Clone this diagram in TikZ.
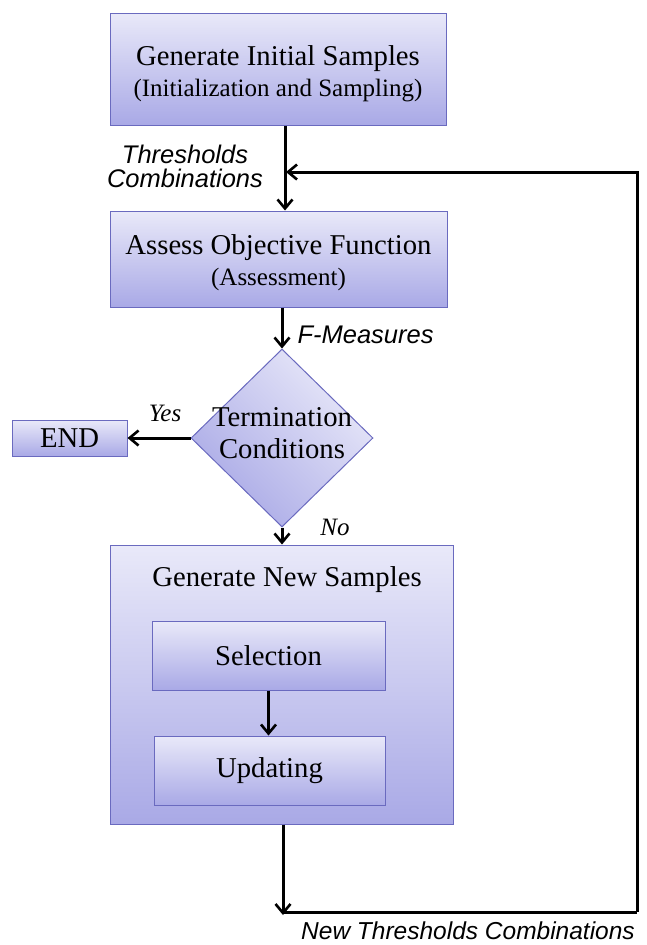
\documentclass[tikz,border=0pt]{standalone}
\usepackage{fontspec}
\setmainfont{Liberation Serif}
\setsansfont{Liberation Sans}
\usepackage{tikz}
\usetikzlibrary{
	                shapes.geometric,
	                arrows.meta,
	                calc
					}
\definecolor{boxtop}{HTML}{E9E9F9}
\definecolor{boxbot}{HTML}{A9A9E6}
\definecolor{boxline}{HTML}{6A6ABF}

\begin{document}
\begin{tikzpicture}[x=1pt,y=-1pt,
	box/.style={draw=boxline,line width=1pt,top color=boxtop,bottom color=boxbot,minimum width=#1},
	boxtxt/.style={font=\fontsize{28.7}{34}\selectfont,align=center},
	lab/.style={font=\sffamily\itshape\fontsize{25.5}{30}\selectfont,align=center},
	yn/.style={font=\itshape\fontsize{25}{30}\selectfont},
	arr/.style={line width=3pt,-{Straight Barb[length=9pt,width=15pt,line width=2.6pt]}},
	ln/.style={line width=3pt}]
	\useasboundingbox (0,0) rectangle (647,945);
	\node[box=336pt,minimum height=112pt] (init) at (278,69) {};
	\node[boxtxt] (inittxt) at ([yshift=-5pt]init.center) {Generate Initial Samples\\[-3pt]{\fontsize{25}{30}\selectfont (Initialization and Sampling)}};
	\node[box=337pt,minimum height=96pt] (assess) at (278.5,259) {};
	\node[boxtxt] (assesstxt) at ([yshift=-4pt]assess.center) {Assess Objective Function\\[-3pt]{\fontsize{25}{30}\selectfont (Assessment)}};
	\node[diamond,draw=boxline,line width=1pt,top color=boxtop,bottom color=boxbot,shading angle=-45,minimum width=182pt,minimum height=178pt,inner sep=0pt] (cond) at (282,438) {};
	\node[boxtxt] (condtxt) at ([yshift=5pt]cond.center) {Termination\\[-2pt]Conditions};
	\node[box=115pt,minimum height=36pt,boxtxt,inner sep=0pt] (end) at (69.5,438) {END};
	\node[box=343pt,minimum height=279pt] (newsamp) at (281.5,684.5) {};
	\node[boxtxt] (newtxt) at (287,580) {Generate New Samples};
	\node[box=233pt,minimum height=69pt,boxtxt] (sel) at (268.5,655.5) {Selection};
	\node[box=231pt,minimum height=69pt,boxtxt] (upd) at (269.5,770.5) {Updating};

	\coordinate (j1) at (285,172);
	\coordinate (bl) at (283,912);
	\coordinate (br) at (637,912);

	\draw[arr] (init.south -| j1) -- (assess.north -| j1);
	\draw[arr] (cond.north |- assess.south) -- (cond.north);
	\draw[arr] (cond.west) -- (end.east);
	\draw[arr] (cond.south) -- (newsamp.north -| cond.south);
	\draw[arr] (sel.south) -- (sel.south |- upd.north);
	\draw[arr] (newsamp.south -| bl) -- ([yshift=-3pt]bl);
	\draw[ln] (bl) -- (br);
	\draw[arr] (br) -- (br |- j1) -- ([xshift=1pt]j1);

	\node[lab] (thrlab) at (185,166) {Thresholds\\[-6pt]Combinations};
	\node[lab,anchor=west] (fmlab) at (294,335) {F-Measures};
	\node[yn] (yeslab) at (165,413) {Yes};
	\node[yn] (nolab) at (335,527) {No};
	\node[lab,font=\sffamily\itshape\fontsize{24.5}{30}\selectfont,inner sep=0pt] (newlab) at (468,931) {New Thresholds Combinations};
\end{tikzpicture}
\end{document}
